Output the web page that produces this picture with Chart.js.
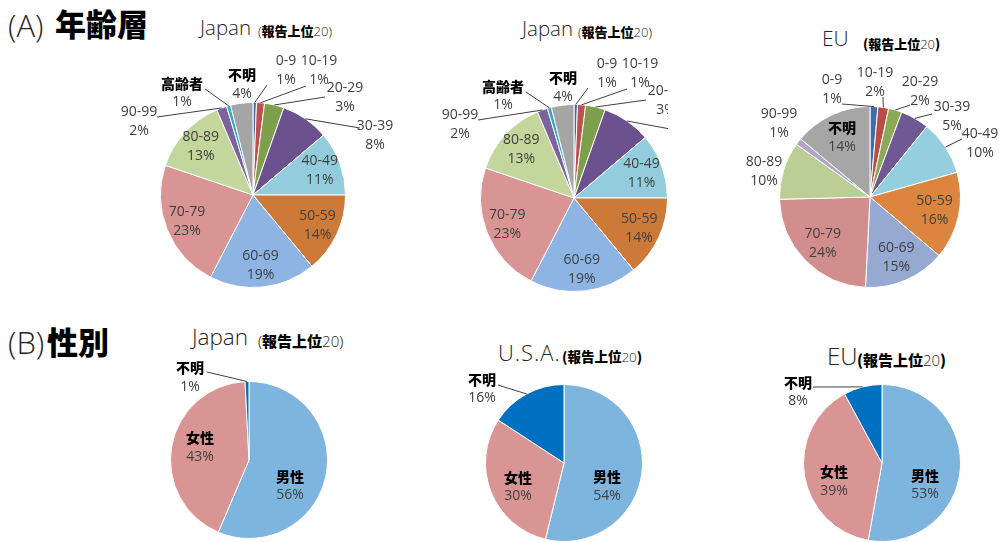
<!DOCTYPE html>
<html>
<head>
<meta charset="utf-8">
<script src="https://cdn.jsdelivr.net/npm/chart.js@4.4.1/dist/chart.umd.min.js"></script>
<style>
html, body { margin: 0; padding: 0; background: #fff; }
#page { position: relative; width: 999px; height: 542px; overflow: hidden; background: #fff; }
.box { position: absolute; overflow: hidden; }
</style>
</head>
<body>
<div id="page"></div>
<script>
// (A) age groups
const ageLabels = ['0-9', '10-19', '20-29', '30-39', '40-49', '50-59', '60-69', '70-79', '80-89', '90-99', '高齢者', '不明'];
const ageJapan = [0.6, 1.4, 3.4, 8.4, 11.2, 14.0, 18.6, 22.6, 13.4, 1.8, 0.7, 3.9];
const ageColorsJapan = ['#3B6DAE', '#C0504D', '#7E9F4C', '#6B528E', '#93CDDD', '#CD7A38', '#8DB4E2', '#D99594', '#C3D69B', '#7E62A0', '#2EA9C9', '#A5A5A5'];

const ageLabelsEU = ['0-9', '10-19', '20-29', '30-39', '40-49', '50-59', '60-69', '70-79', '80-89', '90-99', '不明'];
const ageEU = [1.4, 1.9, 2.4, 5.1, 9.8, 15.6, 14.6, 23.8, 10.3, 1.2, 13.9];
const ageColorsEU = ['#3C6EAD', '#BA4B47', '#8CAA55', '#6F5894', '#95CEDE', '#DC853E', '#95A9D1', '#D18E8D', '#BBCE96', '#B2A3C9', '#A6A6A6'];

// (B) sex
const sexLabels = ['男性', '女性', '不明'];
const sexJapan = [56.4, 42.8, 0.8];
const sexUSA = [53.8, 30.4, 15.8];
const sexEU = [52.8, 39.3, 7.9];
const sexColors = ['#7EB5DE', '#D99594', '#0070C0'];

// label layout: [dx, dy] of label block from pie centre, optional leader end [ex, ey]; null = inside
const placeAgeJapan = [[33, -124, 14, -110], [66, -124, 53, -109], [92, -97, 72, -98], [122, -59, 107, -67],
  null, null, null, null, null, [-114, -73.5, -96, -78], [-71, -102, -48, -106], [-11, -110.5]];
const placeAgeEU = [[-38, -107.5, -28, -93], [5, -114, 13, -100], [50, -105, 40, -92], [82, -80.5, 62, -83],
  [110, -53, 92, -58], null, null, null, [-106, -25], [-91, -73.5], null];
const placeSexJapan = [[41, 26], [-49, -12.5], [-59, -82.5, -42, -88]];
const placeSexUSA = [[43, 23.5], [-46, 24], [-82, -74, -66, -78]];
const placeSexEU = [[43, 22], [-48, 18.5], [-84, -71, -69, -76]];

const page = document.getElementById('page');

// labels with leader lines, like the excel ones
const pieLabels = {
  id: 'pieLabels',
  afterDraw(chart, args, o) {
    const ctx = chart.ctx;
    const vals = chart.data.datasets[0].data;
    const total = vals.reduce((a, b) => a + b, 0);
    const arcs = chart.getDatasetMeta(0).data;
    ctx.save();
    arcs.forEach((arc, i) => {
      const p = arc.getProps(['x', 'y', 'startAngle', 'endAngle', 'outerRadius'], true);
      const mid = (p.startAngle + p.endAngle) / 2;
      const pl = o.place[i];
      let lx, ly;
      if (pl) {
        lx = p.x + pl[0];
        ly = p.y + pl[1];
      } else {
        lx = p.x + Math.cos(mid) * p.outerRadius * o.inner;
        ly = p.y + Math.sin(mid) * p.outerRadius * o.inner;
      }
      if (pl && pl.length > 2) {
        ctx.strokeStyle = '#404040';
        ctx.lineWidth = 1;
        ctx.beginPath();
        ctx.moveTo(p.x + Math.cos(mid) * p.outerRadius, p.y + Math.sin(mid) * p.outerRadius);
        ctx.lineTo(p.x + pl[2], p.y + pl[3]);
        ctx.stroke();
      }
      const name = chart.data.labels[i];
      const jp = /[^\x00-\x7f]/.test(name);
      ctx.textAlign = 'center';
      ctx.textBaseline = 'middle';
      ctx.font = jp ? '900 14px "Noto Sans CJK JP"' : '400 14px "Open Sans"';
      ctx.fillStyle = jp ? '#000' : '#404040';
      ctx.fillText(name, lx, ly - o.gap);
      ctx.font = '400 14px "Open Sans"';
      ctx.fillStyle = '#404040';
      ctx.fillText(Math.round(vals[i] / total * 100) + '%', lx, ly + o.gap);
    });
    ctx.restore();
  }
};

function makePie(box, cx, cy, r, labels, values, colors, place, inner) {
  const div = document.createElement('div');
  div.className = 'box';
  div.style.left = box[0] + 'px';
  div.style.top = box[1] + 'px';
  div.style.width = box[2] + 'px';
  div.style.height = box[3] + 'px';
  const cv = document.createElement('canvas');
  cv.width = box[2];
  cv.height = box[3];
  div.appendChild(cv);
  page.appendChild(div);
  new Chart(cv, {
    type: 'pie',
    data: {
      labels: labels,
      datasets: [{ data: values, backgroundColor: colors, borderColor: '#fff', borderWidth: 1 }]
    },
    options: {
      responsive: false,
      animation: false,
      layout: {
        padding: {
          left: cx - box[0] - r,
          right: box[0] + box[2] - cx - r,
          top: cy - box[1] - r,
          bottom: box[1] + box[3] - cy - r
        }
      },
      plugins: {
        legend: { display: false },
        tooltip: { enabled: false },
        pieLabels: { place: place, inner: inner, gap: 9.5 }
      }
    },
    plugins: [pieLabels]
  });
}

// text helper, x = left edge, base = baseline
const mc = document.createElement('canvas').getContext('2d');
function put(x, base, str, font, color, spacing) {
  mc.font = font;
  const m = mc.measureText(str);
  const s = document.createElement('span');
  s.textContent = str;
  s.style.cssText = 'position:absolute;white-space:nowrap;left:' + x + 'px;top:' + (base - m.fontBoundingBoxAscent) + 'px;font:' + font + ';color:' + (color || '#262626') + ';letter-spacing:' + (spacing || 0) + 'px';
  page.appendChild(s);
  return x + m.width + (spacing || 0) * str.length;
}
function title(x, base, name, size, subX, subBase, subSize, boldParen, spacing) {
  put(x, base, name, '300 ' + size + 'px "Open Sans"', '#262626', spacing);
  const pf = (boldParen ? '900 ' : '300 ') + subSize + 'px ' + (boldParen ? '"Noto Sans CJK JP"' : '"Open Sans"');
  let e = put(subX, subBase, '(', pf, '#000');
  e = put(e, subBase, '報告上位', '900 ' + subSize + 'px "Noto Sans CJK JP"', '#000');
  e = put(e, subBase, '20', '300 ' + subSize + 'px "Open Sans"');
  put(e, subBase, ')', pf, '#000');
}

// headings
put(8, 37, '(A)', '300 31px "Open Sans"');
put(55, 36, '年齢層', '900 31px "Noto Sans CJK JP"', '#000');
put(8, 354, '(B)', '300 31px "Open Sans"');
put(47, 354, '性別', '900 31px "Noto Sans CJK JP"', '#000');

title(200, 35, 'Japan', 20.5, 258, 36, 13, false);
title(522, 36, 'Japan', 20.5, 578, 37, 13, false);
title(822, 46, 'EU', 21, 863, 49, 13, true);
title(192, 345, 'Japan', 22.5, 258, 347, 15, false);
title(498, 361, 'U.S.A.', 22, 562, 362, 13.5, true, 1);
title(827, 365, 'EU', 24, 857, 366, 15, true);

// pies
makePie([0, 0, 400, 300], 253, 195, 93, ageLabels, ageJapan, ageColorsJapan, placeAgeJapan, 0.77);
makePie([400, 0, 268, 300], 574, 198, 94, ageLabels, ageJapan, ageColorsJapan, placeAgeJapan, 0.77);
makePie([668, 0, 331, 300], 870, 197, 91, ageLabelsEU, ageEU, ageColorsEU, placeAgeEU, 0.73);
makePie([0, 300, 400, 242], 249, 460, 79, sexLabels, sexJapan, sexColors, placeSexJapan, 0.6);
makePie([400, 300, 300, 242], 564, 463, 79, sexLabels, sexUSA, sexColors, placeSexUSA, 0.6);
makePie([700, 300, 299, 242], 882, 463, 79, sexLabels, sexEU, sexColors, placeSexEU, 0.6);
</script>
</body>
</html>
